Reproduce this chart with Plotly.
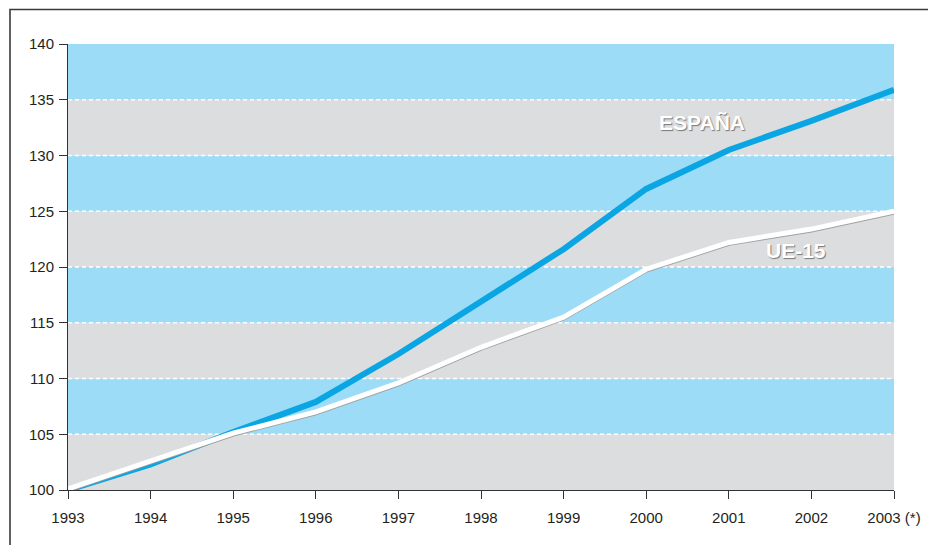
import plotly.graph_objects as go

years = [1993, 1994, 1995, 1996, 1997, 1998, 1999, 2000, 2001, 2002, 2003]
tick_labels = ["1993", "1994", "1995", "1996", "1997", "1998", "1999", "2000", "2001", "2002", "2003 (*)"]
espana = [100.0, 102.3, 105.2, 107.9, 112.2, 116.9, 121.6, 127.0, 130.5, 133.1, 135.9]
ue15 = [100.1, 102.6, 105.1, 107.0, 109.6, 112.8, 115.5, 119.8, 122.2, 123.4, 125.0]
y_ticks = [100, 105, 110, 115, 120, 125, 130, 135, 140]

BLUE_BAND = "#9cdcf7"
GRAY_BAND = "#dcdddf"
LINE_BLUE = "#0aa6e4"

fig = go.Figure()

fig.add_trace(go.Scatter(x=years, y=espana, mode="lines", name="ESPAÑA",
                         line=dict(color=LINE_BLUE, width=6), showlegend=False))
# soft gray shadow under the UE-15 line
fig.add_trace(go.Scatter(x=years, y=[v - 0.08 for v in ue15], mode="lines",
                         line=dict(color="#a0a0a0", width=5), hoverinfo="skip",
                         showlegend=False))
fig.add_trace(go.Scatter(x=years, y=ue15, mode="lines", name="UE-15",
                         line=dict(color="white", width=5), showlegend=False))

shapes = []
for i in range(len(y_ticks) - 1):
    shapes.append(dict(type="rect", xref="paper", yref="y", x0=0, x1=1,
                       y0=y_ticks[i], y1=y_ticks[i + 1], layer="below",
                       line=dict(width=0),
                       fillcolor=GRAY_BAND if i % 2 == 0 else BLUE_BAND))
for v in y_ticks[1:-1]:
    shapes.append(dict(type="line", xref="paper", yref="y", x0=0, x1=1, y0=v, y1=v,
                       layer="below", line=dict(color="white", width=1.3, dash="4px,3px")))
# outer frame
shapes.append(dict(type="rect", xref="paper", yref="paper",
                   x0=(10 - 68) / 826, x1=(940 - 68) / 826,
                   y0=-0.3, y1=1 + (44 - 9.5) / 446,
                   line=dict(color="#3a3a3a", width=1.6), layer="above"))

annot_font = dict(family="Liberation Sans, Arial, sans-serif", size=21, color="white",
                  weight="bold", shadow="1px 1px 1px #777")
annotations = [
    dict(x=2000.68, y=133.0, text="ESPAÑA", showarrow=False, font=annot_font),
    dict(x=2001.81, y=121.5, text="UE-15", showarrow=False, font=annot_font),
]

fig.update_layout(
    width=928, height=545,
    margin=dict(l=68, r=34, t=44, b=55, autoexpand=False),
    paper_bgcolor="white", plot_bgcolor="white",
    shapes=shapes, annotations=annotations,
    font=dict(family="Liberation Sans, Arial, sans-serif", size=15, color="#231f20"),
    xaxis=dict(range=[1993, 2003], tickvals=years, ticktext=tick_labels,
               showgrid=False, zeroline=False, showline=True, linecolor="#333",
               linewidth=1, ticks="outside", ticklen=8, tickcolor="#333",
               tickfont=dict(size=15), automargin=False, ticklabelstandoff=6),
    yaxis=dict(range=[100, 140], tickvals=y_ticks, showgrid=False, zeroline=False,
               showline=True, linecolor="#333", linewidth=1, ticks="outside",
               ticklen=8, tickcolor="#333", tickfont=dict(size=15), automargin=False,
               ticklabelstandoff=2),
)

fig.write_html("out.html")
